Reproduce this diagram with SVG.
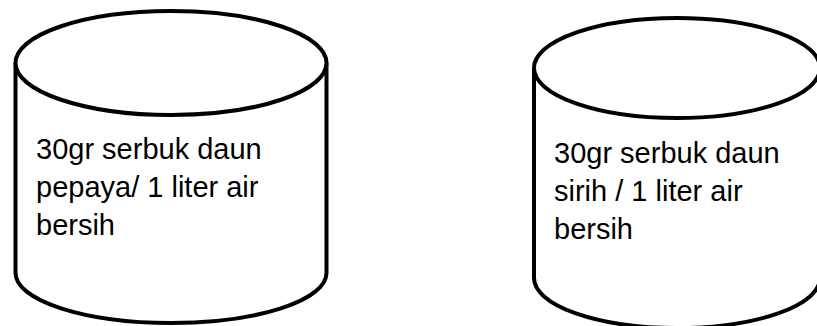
<svg xmlns="http://www.w3.org/2000/svg" width="817" height="326" viewBox="0 0 817 326">
<style>
.cyl{fill:#fff;stroke:#000;stroke-width:4;}
.lbl{font-family:"Liberation Sans",Arial,sans-serif;font-size:29px;fill:#000;}
</style>
<rect width="817" height="326" fill="#fff"/>
<g id="node-pepaya">
<path class="cyl" d="M15.5,63 A155.5,52 0 0 1 326.5,63 L326.5,273 A155.5,50 0 0 1 15.5,273 Z"/>
<path class="cyl" fill="none" d="M15.5,63 A155.5,52 0 0 0 326.5,63"/>
<text class="lbl" x="36" y="159">30gr serbuk daun</text>
<text class="lbl" x="36" y="197">pepaya/ 1 liter air</text>
<text class="lbl" x="36" y="235">bersih</text>
</g>
<g id="node-sirih">
<path class="cyl" d="M534,68 A143,50 0 0 1 820,68 L820,278 A143,50 0 0 1 534,278 Z"/>
<path class="cyl" fill="none" d="M534,68 A143,50 0 0 0 820,68"/>
<text class="lbl" x="554" y="163">30gr serbuk daun</text>
<text class="lbl" x="554" y="201">sirih / 1 liter air</text>
<text class="lbl" x="554" y="239">bersih</text>
</g>
<g id="connectors"></g>
</svg>
